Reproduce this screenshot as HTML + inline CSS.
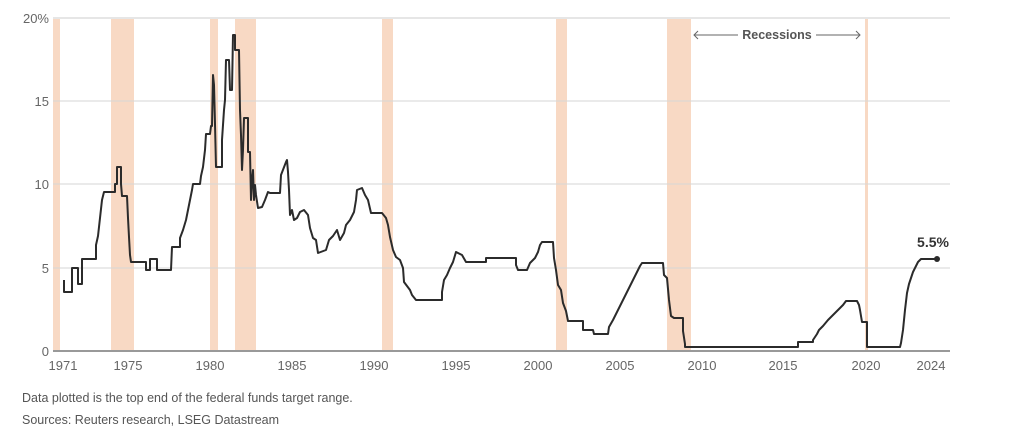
<!DOCTYPE html><html><head><meta charset="utf-8"><style>
body{margin:0;background:#fff;width:1013px;height:438px;overflow:hidden;font-family:"Liberation Sans",sans-serif}
</style></head><body>
<svg width="1013" height="438" viewBox="0 0 1013 438" xmlns="http://www.w3.org/2000/svg" font-family="Liberation Sans, sans-serif">
<g fill="#f8d9c4">
<rect x="53" y="18" width="7" height="333"/><rect x="111" y="18" width="23" height="333"/>
<rect x="210" y="18" width="8" height="333"/><rect x="235" y="18" width="21" height="333"/>
<rect x="382" y="18" width="11" height="333"/><rect x="556" y="18" width="11" height="333"/>
<rect x="667" y="18" width="24" height="333"/><rect x="865" y="18" width="3" height="333"/>
</g>
<g stroke="#d6d6d6" stroke-width="1">
<line x1="53" x2="950" y1="101" y2="101"/><line x1="53" x2="950" y1="184" y2="184"/><line x1="53" x2="950" y1="268" y2="268"/>
</g>
<line x1="53" x2="950" y1="18" y2="18" stroke="#e6e6e6" stroke-width="2"/>
<line x1="53" x2="950" y1="351" y2="351" stroke="#999" stroke-width="2"/>
<g fill="#666" font-size="13">
<text x="49" y="23" text-anchor="end">20%</text><text x="49" y="106" text-anchor="end">15</text>
<text x="49" y="189" text-anchor="end">10</text><text x="49" y="273" text-anchor="end">5</text><text x="49" y="356" text-anchor="end">0</text>
<g text-anchor="middle">
<text x="63" y="370">1971</text><text x="128" y="370">1975</text><text x="210" y="370">1980</text><text x="292" y="370">1985</text>
<text x="374" y="370">1990</text><text x="456" y="370">1995</text><text x="538" y="370">2000</text><text x="620" y="370">2005</text>
<text x="702" y="370">2010</text><text x="783" y="370">2015</text><text x="866" y="370">2020</text><text x="931" y="370">2024</text>
</g></g>
<g fill="#555" font-size="12.5">
<text x="22" y="402">Data plotted is the top end of the federal funds target range.</text>
<text x="22" y="424">Sources: Reuters research, LSEG Datastream</text>
</g>
<g stroke="#666" stroke-width="1" fill="none">
<line x1="694" x2="738" y1="35" y2="35"/><path d="M698 31l-4 4 4 4"/>
<line x1="816" x2="860" y1="35" y2="35"/><path d="M856 31l4 4-4 4"/>
</g>
<text x="777" y="39" text-anchor="middle" font-size="12.5" font-weight="bold" fill="#555">Recessions</text>
<text x="933" y="247" text-anchor="middle" font-size="14" font-weight="bold" fill="#333">5.5%</text>
<polyline fill="none" stroke="#2b2b2b" stroke-width="2" stroke-linejoin="round" points="
64,280 64,292 72,292 72,268 78,268 78,284 82,284 82,259 96,259 96,245 98,236 100,218 102,200 104,192 115,192 115,184 117,184 117,167 121,167 121,184 122,196 127,196 128,218 129,237 130,255 131,262 146,262 146,270 150,270 150,259 157,259 157,270 171,270 172,247 180,247 180,238 183,230 186,220 188,210 190,200 192,190 193,184 200,184 201,176 203,167 205,150 206,134 210,134 211,126 212,126 213,75 214,85 215,124 216,167 222,167 222,140 224,110 225,100 226,60 229,60 230,90 232,90 233,35 235,35 235,50 239,50 240,110 241,135 242,170 243,150 244,118 248,118 248,152 250,152 251,200 252,180 253,170 254,200 255,185 256,195 258,208 262,207 265,200 268,192 270,193 280,193 281,175 286,162 287,160 288,172 289,190 290,215 292,210 294,220 297,218 300,212 304,210 308,215 310,228 313,238 316,240 318,253 326,250 329,240 333,236 337,230 340,240 344,233 346,225 350,220 354,212 356,200 357,190 362,188 365,195 368,200 371,213 382,213 386,218 388,225 390,237 393,250 396,257 400,260 403,268 404,282 410,290 412,295 416,300 442,300 442,292 444,280 447,275 450,268 453,262 456,252 462,255 466,262 486,262 486,258 516,258 516,265 518,270 527,270 530,263 535,258 538,252 540,245 542,242 553,242 554,258 556,270 558,285 561,290 563,303 566,311 568,321 583,321 583,330 593,330 594,334 608,334 609,327 613,320 617,312 621,304 625,296 629,288 633,280 637,272 640,266 642,263 663,263 664,275 667,278 669,300 671,316 674,318 683,318 683,331 685,344 685,347 798,347 798,342 813,342 813,340 817,334 819,330 823,326 828,320 833,315 838,310 843,305 846,301 857,301 859,305 860,310 862,322 867,322 867,347 900,347 901,343 903,330 905,310 907,293 909,284 913,272 916,266 918,262 921,259 937,259"/>
<circle cx="937" cy="259" r="3" fill="#2b2b2b"/>
</svg>
</body></html>
